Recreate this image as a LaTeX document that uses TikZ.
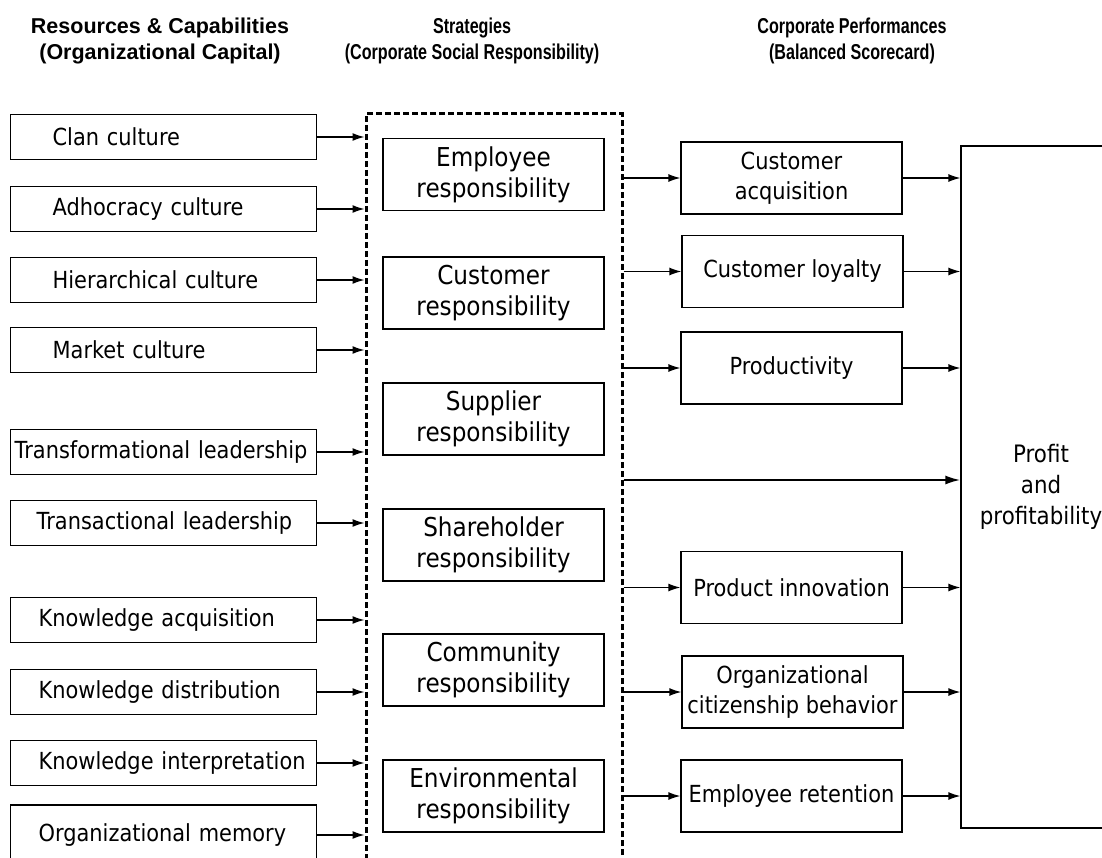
\documentclass[tikz,border=0pt]{standalone}
\usepackage{fontspec}
\setmainfont{DejaVu Sans}[FakeStretch=0.89]
\newfontfamily\headfam{Liberation Sans Bold}
\newfontfamily\narrowfam{Liberation Sans Bold}[FakeStretch=0.75]
\usetikzlibrary{arrows.meta,positioning}

% font sizes (1pt = 1 px of the layout)
\newcommand\bodyfont{\fontsize{23.5}{30}\selectfont}
\newcommand\csrfont{\fontsize{26}{31}\selectfont}
\newcommand\headfont{\headfam\fontsize{21.5}{26}\selectfont}
\newcommand\narrowhead{\narrowfam\fontsize{21.5}{26}\selectfont}

\begin{document}
\begin{tikzpicture}[
    x=1pt, y=-1pt,
    >={Latex[length=12pt,width=8pt]},
    box/.style={draw, line width=1.3pt, inner sep=0pt, align=center},
    res/.style={box, anchor=west, text width=300pt, inner xsep=3pt,
        minimum height=45pt, align=left, font=\bodyfont},
    csrbox/.style={box, minimum width=221pt, minimum height=72pt, font=\csrfont},
    perf/.style={box, minimum width=221pt, minimum height=72pt, font=\bodyfont},
    head/.style={align=center, font=\headfont},
    link/.style={->, line width=1.3pt},
]
    \useasboundingbox (0,0) rectangle (1102,858);

    % --- 1. column titles ---
    \node[head] (hres) at (160,41) {Resources \& Capabilities\\(Organizational Capital)};
    \node[head, font=\narrowhead] (hcsr) at (472,41) {Strategies\\(Corporate Social Responsibility)};
    \node[head, font=\narrowhead] (hperf) at (852,41) {Corporate Performances\\(Balanced Scorecard)};

    % --- 2. resources & capabilities (left) ---
    \node[res] (clan) at (10,137) {\hspace*{39pt}Clan culture};
    \node[res] (adho) at (10,209) {\hspace*{39pt}Adhocracy culture};
    \node[res] (hier) at (10,280) {\hspace*{39pt}Hierarchical culture};
    \node[res] (mark) at (10,350) {\hspace*{39pt}Market culture};
    \node[res] (tfl)  at (10,452) {\hspace*{1pt}Transformational leadership};
    \node[res] (tal)  at (10,523) {\hspace*{23pt}Transactional leadership};
    \node[res] (kacq) at (10,620) {\hspace*{25pt}Knowledge acquisition};
    \node[res] (kdis) at (10,692) {\hspace*{25pt}Knowledge distribution};
    \node[res] (kint) at (10,763) {\hspace*{25pt}Knowledge interpretation};
    \node[res, minimum height=60pt] (omem) at (10,835) {\hspace*{25pt}Organizational memory};

    % --- 3. CSR strategies (dashed frame) ---
    \node[draw, line width=3pt, dash pattern=on 6pt off 3pt, inner sep=0pt,
        minimum width=256pt, minimum height=800pt] (csr) at (494,514) {};

    \node[csrbox] (emp)  at (493.5,174.5) {Employee\\responsibility};
    \node[csrbox] (cus)  at (493.5,293)   {Customer\\responsibility};
    \node[csrbox] (sup)  at (493.5,419)   {Supplier\\responsibility};
    \node[csrbox] (sha)  at (493.5,545)   {Shareholder\\responsibility};
    \node[csrbox] (com)  at (493.5,670)   {Community\\responsibility};
    \node[csrbox] (env)  at (493.5,796)   {Environmental\\responsibility};

    % --- 4. corporate performances ---
    \node[perf] (cacq) at (791.5,178)   {Customer\\acquisition};
    \node[perf] (cloy) at (792.5,271.5) {Customer loyalty};
    \node[perf] (prod) at (791.5,368)   {Productivity};
    \node[perf] (pinn) at (791.5,587.5) {Product innovation};
    \node[perf] (ocb)  at (792.5,692)   {Organizational\\citizenship behavior};
    \node[perf] (eret) at (791.5,796)   {Employee retention};

    \node[box, minimum width=160pt, minimum height=682pt, font=\fontsize{24}{31}\selectfont]
        (profit) at (1041,487) {Profit\\and\\profitability};

    % --- 5. arrows ---
    \foreach \n in {clan,adho,hier,mark,tfl,tal,kacq,kdis,kint,omem}
        \draw[link] (\n.east) -- (\n.east -| csr.west);

    \foreach \n in {cacq,cloy,prod,pinn,ocb,eret} {
        \draw[link] (\n.west -| csr.east) -- (\n.west);
        \draw[link] (\n.east) -- (\n.east -| profit.west);
    }

    \coordinate (direct) at (0,480);
    \draw[->, line width=2pt, >={Latex[length=15pt,width=9pt]}]
        (csr.east |- direct) -- (profit.west |- direct);

\end{tikzpicture}
\end{document}
